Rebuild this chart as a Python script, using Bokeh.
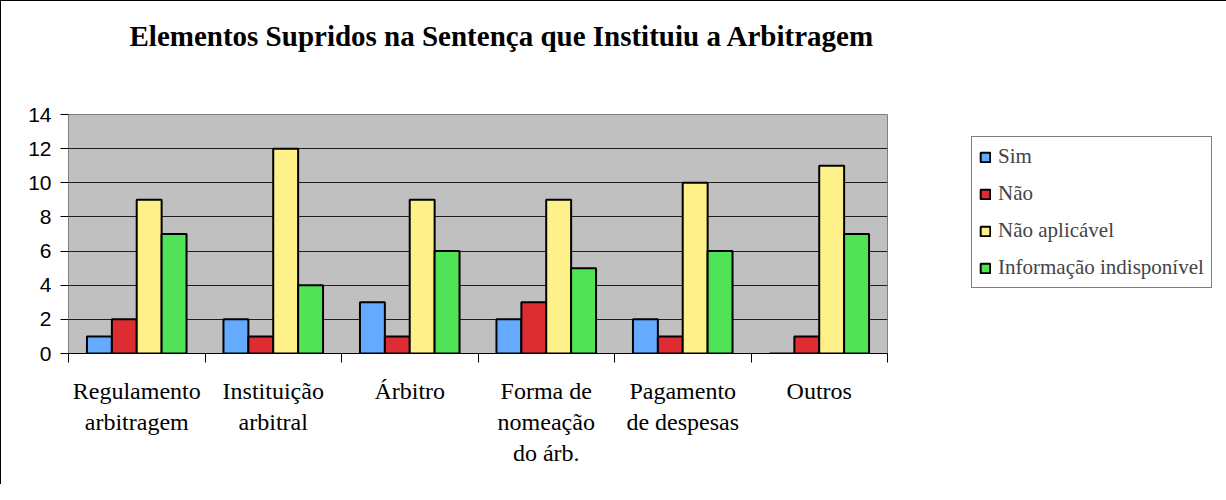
import numpy as np
from bokeh.plotting import figure
from bokeh.models import (ColumnDataSource, FixedTicker, Legend, LegendItem, Title)
from bokeh.embed import file_html
from bokeh.resources import INLINE

chart_title = "Elementos Supridos na Sentença que Instituiu a Arbitragem"
categories = ["Regulamento\narbitragem", "Instituição\narbitral", "Árbitro",
              "Forma de\nnomeação\ndo árb.", "Pagamento\nde despesas", "Outros"]
series_names = ["Sim", "Não", "Não aplicável", "Informação indisponível"]
sim = [1, 2, 3, 2, 2, 0]
nao = [2, 1, 1, 3, 1, 1]
nao_aplicavel = [9, 12, 9, 9, 10, 11]
info_indisponivel = [7, 4, 6, 5, 6, 7]
y_ticks = [0, 2, 4, 6, 8, 10, 12, 14]

series_values = [sim, nao, nao_aplicavel, info_indisponivel]
colors = ["#64AAFF", "#DD2D33", "#FFF18A", "#50E357"]
offsets = [-0.2735, -0.091, 0.091, 0.2735]
bar_w = 0.1825

p = figure(frame_width=819, frame_height=239, x_range=(0, len(categories)), y_range=(0, 14),
           output_backend="svg", toolbar_location=None,
           min_border_left=67, min_border_right=0, min_border_top=113,
           min_border_bottom=131,
           styles={"border-left": "1px solid black", "border-top": "1px solid black"})
p.title = None

p.background_fill_color = "#C0C0C0"
p.border_fill_color = "white"
p.outline_line_color = "#808080"
p.outline_line_width = 1

centers = np.arange(len(categories)) + 0.5
renderers = []
for name, vals, col, off in zip(series_names, series_values, colors, offsets):
    src = ColumnDataSource(dict(x=centers + off, top=vals))
    r = p.vbar(x="x", top="top", width=bar_w, source=src, fill_color=col,
               line_color="black", line_width=2)
    renderers.append((name, r))

p.xaxis.ticker = FixedTicker(ticks=list(centers), minor_ticks=list(range(len(categories) + 1)))
p.xaxis.major_label_overrides = {float(c): lab for c, lab in zip(centers, categories)}
p.xaxis.major_tick_out = 0
p.xaxis.major_tick_in = 0
p.xaxis.minor_tick_out = 9
p.xaxis.minor_tick_in = 0
p.xaxis.minor_tick_line_color = "black"
p.xaxis.axis_line_color = "black"
p.xaxis.major_label_text_font = "Liberation Serif"
p.xaxis.major_label_text_font_size = "24px"
p.xaxis.major_label_text_color = "black"
p.xaxis.major_label_text_line_height = 1.2
p.xaxis.major_label_standoff = 15
p.xaxis.major_label_orientation = "horizontal"

p.yaxis.ticker = FixedTicker(ticks=y_ticks)
p.yaxis.minor_tick_line_color = None
p.yaxis.major_tick_out = 8
p.yaxis.major_tick_in = 0
p.yaxis.major_tick_line_color = "black"
p.yaxis.axis_line_color = "#808080"
p.yaxis.major_label_text_font = "Liberation Sans"
p.yaxis.major_label_text_font_size = "21px"
p.yaxis.major_label_text_color = "black"
p.yaxis.major_label_standoff = 9

p.xgrid.grid_line_color = None
p.ygrid.ticker = FixedTicker(ticks=y_ticks)
p.ygrid.grid_line_color = "#1E1E1E"

# spacer (nearest the frame) then the real title above it
spacer = Title(text=" ", text_font_size="10px", standoff=50)
p.add_layout(spacer, "above")
main_title = Title(text=chart_title, text_font="Liberation Serif", text_font_style="bold",
                   text_font_size="29px", text_color="black", align="left", offset=61,
                   vertical_align="bottom", standoff=0)
p.add_layout(main_title, "above")

legend = Legend(items=[LegendItem(label=n, renderers=[r]) for n, r in renderers],
                location=(84, 65), orientation="vertical",
                glyph_width=12, glyph_height=12, label_standoff=7,
                label_text_font="Liberation Serif", label_text_font_size="21px",
                label_height=20, spacing=12, padding=7, margin=0,
                border_line_color="black", border_line_width=1,
                background_fill_color="white", background_fill_alpha=1)
p.add_layout(legend, "right")

open("out.html", "w").write(file_html(p, INLINE))
